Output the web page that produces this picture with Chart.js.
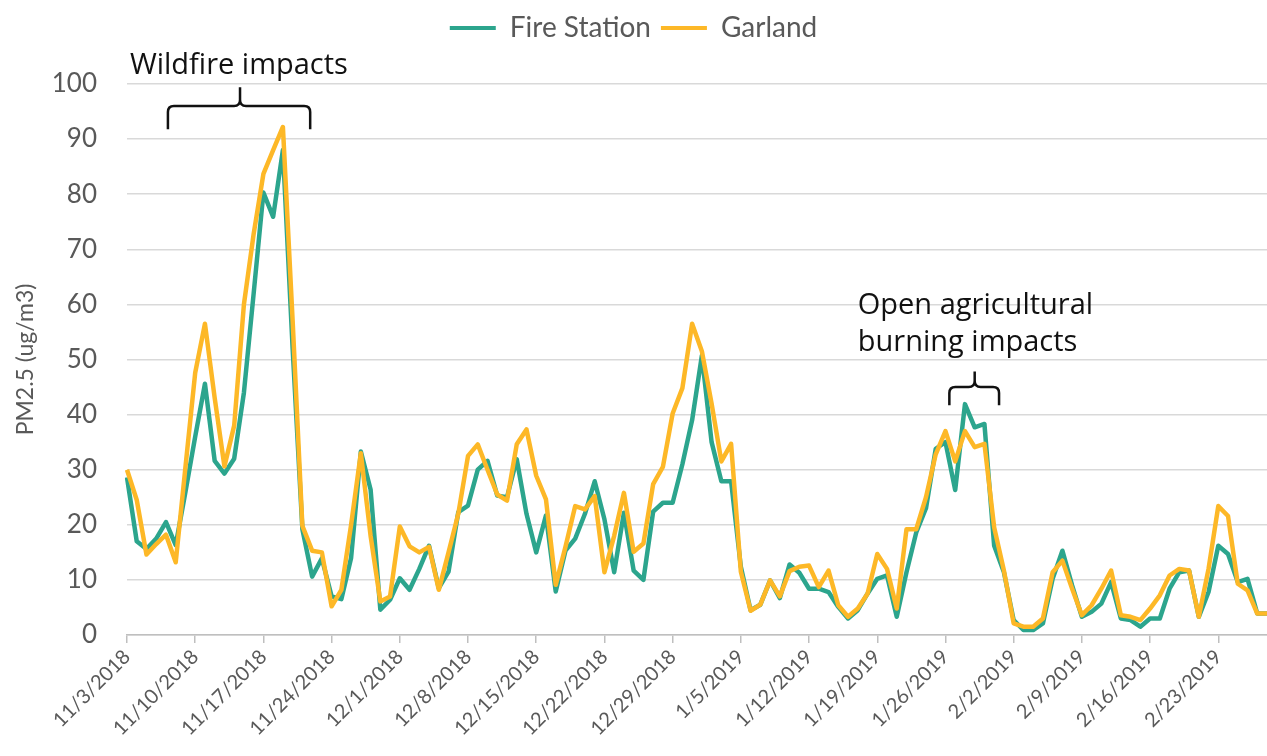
<!DOCTYPE html>
<html>
<head>
<meta charset="utf-8">
<title>PM2.5 Fire Station vs Garland</title>
<script src="https://cdn.jsdelivr.net/npm/chart.js@4.4.1/dist/chart.umd.min.js"></script>
<style>
  html, body { margin: 0; padding: 0; background: #fff; }
  #wrap { width: 1267px; height: 756px; position: relative; }
</style>
</head>
<body>
<div id="wrap"><canvas id="pmChart"></canvas></div>
<script>
// ---- data (daily PM2.5, ug/m3) ----
const startDate = [2018, 11, 3]; // 11/3/2018, one point per day
const tickLabels = ['11/3/2018', '11/10/2018', '11/17/2018', '11/24/2018', '12/1/2018',
  '12/8/2018', '12/15/2018', '12/22/2018', '12/29/2018', '1/5/2019', '1/12/2019',
  '1/19/2019', '1/26/2019', '2/2/2019', '2/9/2019', '2/16/2019', '2/23/2019'];

const fireStation = [
  28.6, 17, 15.6, 17.5, 20.5, 16.3, 26, 36, 45.6, 31.6,
  29.3, 32, 44, 62, 80.3, 75.9, 88, 52, 19.2, 10.6,
  13.9, 7, 6.5, 14, 33.3, 26.4, 4.6, 6.4, 10.3, 8.2,
  12, 16.2, 8.5, 11.5, 22.3, 23.5, 30, 31.6, 25.3, 25,
  31.9, 22, 15, 21.7, 7.9, 15.3, 17.5, 22, 27.9, 21,
  11.4, 22.2, 11.7, 10, 22.4, 24, 24, 31, 39, 50.7,
  35, 27.9, 27.9, 12.4, 4.5, 5.5, 9.9, 6.7, 12.8, 11.3,
  8.4, 8.4, 7.8, 5.1, 3, 4.5, 7.5, 10.2, 10.8, 3.3,
  11.4, 18.6, 23, 33.8, 35, 26.3, 41.9, 37.7, 38.3, 16.2,
  11.4, 2.7, 0.9, 0.9, 2.1, 10.2, 15.3, 9, 3.3, 4.2,
  5.7, 9.6, 3, 2.7, 1.5, 3, 3, 8.4, 11.4, 11.7,
  3.3, 7.8, 16.2, 14.7, 9.6, 10.2, 3.9, 3.9
];
const garland = [
  30, 24.5, 14.6, 16.5, 18.2, 13.2, 30.5, 47.6, 56.5, 43,
  30.6, 38, 60, 72.8, 83.7, 88, 92.2, 57, 19.8, 15.3,
  15, 5.2, 8.2, 20, 33, 18, 6.1, 7, 19.7, 16.1,
  15, 16, 8.2, 15, 22, 32.5, 34.6, 30, 25.5, 24.4,
  34.6, 37.3, 28.9, 24.6, 9.1, 16, 23.4, 22.8, 25.2, 11.4,
  18, 25.8, 15.1, 16.6, 27.4, 30.5, 40.2, 44.8, 56.5, 51.5,
  42, 31.5, 34.7, 11.5, 4.4, 5.5, 9.9, 7, 11.6, 12.4,
  12.6, 8.7, 11.7, 5.4, 3.3, 4.8, 7.5, 14.7, 12, 4.8,
  19.2, 19.2, 25, 32.8, 37, 31.5, 37, 34.1, 34.7, 19.5,
  11.7, 2.1, 1.5, 1.5, 3, 11.4, 13.5, 8.4, 3.6, 5.4,
  8.4, 11.7, 3.6, 3.3, 2.7, 4.8, 7.2, 10.8, 12, 11.7,
  3.3, 12, 23.4, 21.6, 9.3, 8.1, 3.9, 3.9
];

// one category per day
const categories = fireStation.map((_, i) => {
  const d = new Date(startDate[0], startDate[1] - 1, startDate[2] + i);
  return (d.getMonth() + 1) + '/' + d.getDate() + '/' + d.getFullYear();
});

// ---- annotation text + braces (x in day index, y in data units) ----
const notes = [
  { lines: ['Wildfire impacts'], x: 0.3, y: 101.8 },
  { lines: ['Open agricultural', 'burning impacts'], x: 75, y: 58.3 }
];
const braces = [
  { from: 4.2, to: 18.8, mid: 11.6, arm: 91.8, bar: 96, tip: 99.4 },
  { from: 84.4, to: 89.5, mid: 87, arm: 41.7, bar: 45, tip: 47.8 }
];

const TEAL = '#2ca58d';
const GOLD = '#fdb827';
const GREY = '#595959';
const FONT = "Lato, 'Open Sans', sans-serif";

const annotations = {
  id: 'annotations',
  afterDraw(chart) {
    const { ctx, scales: { x, y } } = chart;
    ctx.save();
    ctx.fillStyle = '#111';
    ctx.font = "29px 'Open Sans', sans-serif";
    ctx.textBaseline = 'alphabetic';
    notes.forEach(n => {
      n.lines.forEach((line, i) => {
        ctx.fillText(line, x.getPixelForValue(n.x), y.getPixelForValue(n.y) + i * 37);
      });
    });

    ctx.strokeStyle = '#111';
    ctx.lineWidth = 2.5;
    braces.forEach(b => {
      const x1 = x.getPixelForValue(b.from), x2 = x.getPixelForValue(b.to);
      const xc = x.getPixelForValue(b.mid);
      const yb = y.getPixelForValue(b.arm), yh = y.getPixelForValue(b.bar);
      const yt = y.getPixelForValue(b.tip);
      const r = 6;
      ctx.beginPath();
      ctx.moveTo(x1, yb);
      ctx.lineTo(x1, yh + r);
      ctx.quadraticCurveTo(x1, yh, x1 + r, yh);
      ctx.lineTo(xc - r, yh);
      ctx.quadraticCurveTo(xc, yh, xc, yh - r);
      ctx.lineTo(xc, yt);
      ctx.moveTo(xc, yh - r);
      ctx.quadraticCurveTo(xc, yh, xc + r, yh);
      ctx.lineTo(x2 - r, yh);
      ctx.quadraticCurveTo(x2, yh, x2, yh + r);
      ctx.lineTo(x2, yb);
      ctx.stroke();
    });
    ctx.restore();
  }
};

// extra space between legend and plot
const legendGap = {
  id: 'legendGap',
  beforeInit(chart) {
    const fit = chart.legend.fit;
    chart.legend.fit = function () {
      fit.call(this);
      this.height += 32;
    };
  }
};

const ctx = document.getElementById('pmChart').getContext('2d');
new Chart(ctx, {
  type: 'line',
  data: {
    labels: categories,
    datasets: [
      { label: 'Fire Station', data: fireStation, borderColor: TEAL, backgroundColor: TEAL, order: 1 },
      { label: 'Garland', data: garland, borderColor: GOLD, backgroundColor: GOLD, order: 0 }
    ]
  },
  options: {
    responsive: true,
    maintainAspectRatio: false,
    animation: false,
    layout: { padding: { top: 4, right: 0, bottom: 0, left: 0 } },
    elements: {
      line: { borderWidth: 4.5, tension: 0, borderJoinStyle: 'round' },
      point: { radius: 0 }
    },
    plugins: {
      legend: {
        position: 'top',
        labels: {
          color: GREY,
          font: { family: FONT, size: 28 },
          boxWidth: 46,
          boxHeight: 4,
          padding: 10,
          sort: (a, b) => a.datasetIndex - b.datasetIndex,
          generateLabels: chart =>
            Chart.defaults.plugins.legend.labels.generateLabels(chart)
              .map(l => ({ ...l, lineWidth: 0 }))
        }
      },
      tooltip: { enabled: false }
    },
    scales: {
      x: {
        offset: false,
        grid: { display: true, drawOnChartArea: false, drawTicks: true, tickLength: 8, color: '#bfbfbf', lineWidth: 1.5 },
        border: { display: true, color: '#bfbfbf', width: 1.5 },
        ticks: {
          autoSkip: false,
          minRotation: 45,
          maxRotation: 45,
          padding: 2,
          color: GREY,
          font: { family: FONT, size: 20 },
          callback(value) {
            const lab = this.getLabelForValue(value);
            return tickLabels.includes(lab) ? lab : null;
          }
        },
        afterFit(scale) { scale.height = 121; }
      },
      y: {
        min: 0,
        max: 100,
        grid: { color: '#d9d9d9', lineWidth: 1.5, drawTicks: false },
        border: { display: false },
        ticks: {
          stepSize: 10,
          padding: 30,
          color: GREY,
          font: { family: FONT, size: 26 }
        },
        title: {
          display: true,
          text: 'PM2.5 (ug/m3)',
          color: GREY,
          font: { family: FONT, size: 23 },
          padding: { top: 12, bottom: 0 }
        },
        afterFit(scale) { scale.width = 127; }
      }
    }
  },
  plugins: [annotations, legendGap]
});
</script>
</body>
</html>
